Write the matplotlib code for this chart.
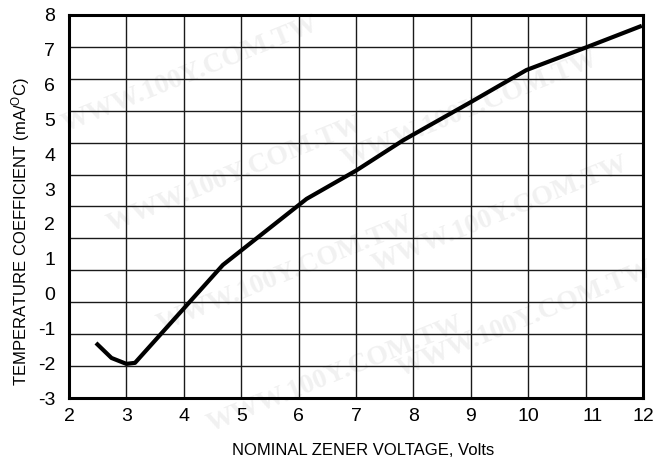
"""
Zener diode temperature coefficient vs nominal zener voltage.
Recreated from a datasheet figure (the 100Y watermark is kept faint).
"""
import matplotlib.pyplot as plt
import numpy as np
from matplotlib.transforms import blended_transform_factory

plt.rcParams["font.family"] = ["Liberation Sans", "DejaVu Sans"]
plt.rcParams["mathtext.default"] = "regular"

# curve (x in volts, y in label units)
zener_voltage = [2.47, 2.74, 3.00, 3.15, 4.68, 6.14, 7.00, 7.83, 8.98, 9.97, 11.01, 11.98]
temp_coeff = [-1.42, -1.85, -2.02, -1.99, 0.82, 2.72, 3.53, 4.41, 5.48, 6.42, 7.07, 7.69]

x_ticks = [2, 3, 4, 5, 6, 7, 8, 9, 10, 11, 12]
y_ticks = [-3, -2, -1, 0, 1, 2, 3, 4, 5, 6, 7, 8]

# watermark centres in pixels (from top-left)
mark_pos = [(190, 75), (235, 175), (285, 275), (335, 375), (470, 110), (500, 215), (525, 320)]

fig = plt.figure(figsize=(6.57, 4.61), dpi=100)
ax = fig.add_axes([69 / 657, 1 - 398 / 461, 574 / 657, 383 / 461])

# faint watermark behind the axes
for cx, cy in mark_pos:
    fig.text(cx / 657, 1 - cy / 461, "WWW.100Y.COM.TW",
             rotation=22, ha="center", va="center",
             fontsize=20, fontweight="bold", family=["Liberation Serif", "DejaVu Serif"],
             color="#f1f1f1", zorder=-5)

ax.patch.set_alpha(0)
ax.set_xlim(2, 12)
ax.set_ylim(-3, 8)

# the original grid has 12 horizontal divisions although the labels run 8..-3
for gy in np.linspace(-3, 8, 13)[1:-1]:
    ax.axhline(gy, color="#1a1a1a", lw=1.0, zorder=1)
for gx in x_ticks[1:-1]:
    ax.axvline(gx, color="#1a1a1a", lw=1.0, zorder=1)

ax.plot(zener_voltage, temp_coeff, color="black", lw=3.0, solid_joinstyle="round",
        solid_capstyle="butt", zorder=3)

for spine in ax.spines.values():
    spine.set_linewidth(2.2)
    spine.set_zorder(4)

ax.set_yticks(y_ticks)
ax.set_yticklabels([str(v) for v in y_ticks])
ax.set_xticks(x_ticks)
ax.set_xticklabels([str(v) if v != 11 else "" for v in x_ticks])
ax.tick_params(axis="both", length=0, labelsize=14)
ax.tick_params(axis="y", pad=10)
ax.tick_params(axis="x", pad=7)

# the "11" sits a bit lower and to the right in the original
trans = blended_transform_factory(ax.transData, ax.transAxes)
ax.text(11.12, -0.027, "11", transform=trans, ha="center", va="top", fontsize=14)

fig.text(363 / 657, 1 - 450 / 461, "NOMINAL ZENER VOLTAGE, Volts",
         ha="center", va="center", fontsize=12)
fig.text(21 / 657, 1 - 232 / 461, r"TEMPERATURE COEFFICIENT (mA/$^{O}$C)",
         ha="center", va="center", rotation=90, fontsize=12)

fig.savefig("out.png", dpi=100)
